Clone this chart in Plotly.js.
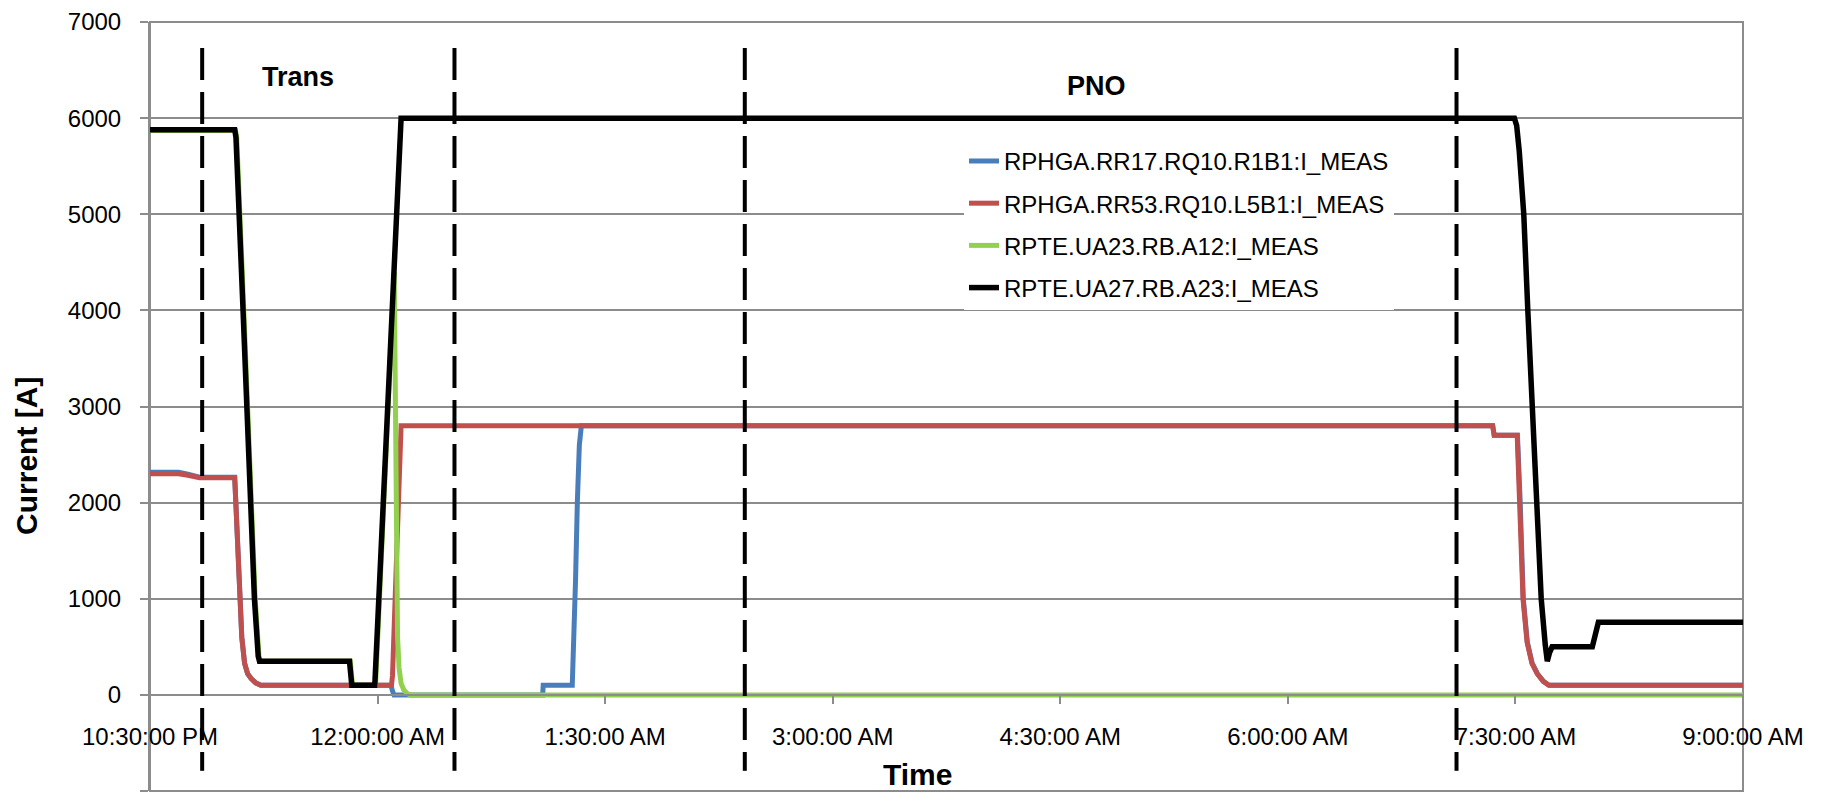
<!DOCTYPE html>
<html>
<head>
<meta charset="utf-8">
<script src="https://cdn.plot.ly/plotly-3.0.1.min.js"></script>
<style>html,body{margin:0;padding:0;background:#fff}</style>
</head>
<body>
<div id="chart" style="width:1825px;height:802px"></div>
<script>
// ---- Data (clock times, values in A) ----
const seriesNames = [
  "RPHGA.RR17.RQ10.R1B1:I_MEAS",
  "RPHGA.RR53.RQ10.L5B1:I_MEAS",
  "RPTE.UA23.RB.A12:I_MEAS",
  "RPTE.UA27.RB.A23:I_MEAS"
];
const seriesColors = ["#4a7ebb", "#c0504d", "#92d050", "#000000"];

const blueTimes = ["22:30:00","22:41:18","22:45:00","22:49:36","23:03:30","23:04:00","23:05:30","23:06:18","23:07:24","23:08:36","23:10:00","23:11:48","23:13:48","00:05:18","00:05:54","00:06:30","01:05:18","01:05:30","01:17:00","01:17:36","01:18:18","01:19:00","01:19:48","01:20:36","07:21:00","07:21:36","07:30:48","07:31:54","07:33:06","07:34:42","07:36:36","07:38:42","07:41:06","07:43:18","09:00:00"];
const blueValues = [2315,2315,2295,2265,2265,2005,1000,600,330,220,170,125,100,100,40,0,0,100,100,500,1200,2000,2600,2800,2800,2700,2700,2000,1000,550,330,220,140,100,100];

const redTimes = ["22:30:00","22:41:18","22:45:00","22:49:36","23:03:30","23:04:00","23:05:30","23:06:18","23:07:24","23:08:36","23:10:00","23:11:48","23:13:48","00:05:30","00:05:54","00:07:18","00:08:42","00:09:18","07:21:00","07:21:36","07:30:42","07:31:48","07:33:00","07:34:36","07:36:30","07:38:36","07:41:00","07:43:12","09:00:00"];
const redValues = [2300,2300,2285,2260,2260,2000,1000,600,330,220,170,125,100,100,200,1200,2500,2800,2800,2700,2700,2000,1000,550,330,220,140,100,100];

const greenTimes = ["22:30:00","23:03:48","23:04:18","23:05:42","23:07:06","23:08:36","23:10:06","23:11:36","23:13:06","23:13:36","23:49:12","23:50:06","23:59:12","00:06:36","00:06:54","00:07:12","00:07:30","00:07:54","00:08:30","00:09:18","00:10:24","00:11:48","00:13:00","09:00:00"];
const greenValues = [5870,5870,5800,5000,4000,3000,2000,1000,400,350,350,100,100,4400,3500,2200,1200,600,280,120,50,12,0,0];

const blackTimes = ["22:30:00","23:03:30","23:04:00","23:05:24","23:06:48","23:08:18","23:09:48","23:11:18","23:12:48","23:13:18","23:48:54","23:49:48","23:58:54","00:08:54","00:09:18","07:29:36","07:30:30","07:31:30","07:33:18","07:34:54","07:36:36","07:38:12","07:40:12","07:41:48","07:42:36","07:43:30","07:44:30","08:00:24","08:01:30","08:02:48","09:00:00"];
const blackValues = [5880,5880,5800,5000,4000,3000,2000,1000,400,350,350,100,100,5950,6000,6000,5920,5660,5000,4000,3000,2000,1000,520,350,440,500,500,640,755,755];

const phaseBoundaryTimes = ["22:50:38","00:30:25","02:25:14","07:06:42"];
const phaseLabels = ["Trans", "PNO"];

const xTickTimes = ["22:30:00","00:00:00","01:30:00","03:00:00","04:30:00","06:00:00","07:30:00","09:00:00"];
const xTickLabels = ["10:30:00 PM","12:00:00 AM","1:30:00 AM","3:00:00 AM","4:30:00 AM","6:00:00 AM","7:30:00 AM","9:00:00 AM"];
const yTickValues = [-1000,0,1000,2000,3000,4000,5000,6000,7000];

// ---- helpers ----
function toDate(clock) {
  const h = parseInt(clock.slice(0, 2), 10);
  return (h >= 12 ? "2000-01-01 " : "2000-01-02 ") + clock;
}

const allTimes = [blueTimes, redTimes, greenTimes, blackTimes];
const allValues = [blueValues, redValues, greenValues, blackValues];
const widths = [5, 5, 5, 5.5];

const traces = seriesNames.map((name, i) => ({
  type: "scatter",
  mode: "lines",
  name: name,
  legendgroup: "g" + i,
  x: allTimes[i].map(toDate),
  y: allValues[i],
  line: {color: seriesColors[i], width: widths[i]},
  hoverinfo: "skip"
}));

const gridGray = "#8c8c8c";
const shapes = [{
  type: "rect", xref: "paper", yref: "paper", x0: 0, x1: 1, y0: 0, y1: 1,
  line: {color: gridGray, width: 2}, layer: "between"
}];
phaseBoundaryTimes.forEach(t => {
  shapes.push({
    type: "line", xref: "x", yref: "y",
    x0: toDate(t), x1: toDate(t), y0: 6730, y1: -790,
    line: {color: "#000", width: 4, dash: "32px,12px"}, layer: "above"
  });
});

const font = "Liberation Sans, Arial, sans-serif";
const annotations = [
  {text: "<b>" + phaseLabels[0] + "</b>", xref: "paper", yref: "paper", x: 0.093, y: 0.9285,
   xanchor: "center", yanchor: "middle",
   showarrow: false, font: {size: 27, family: font, color: "#000"}},
  {text: "<b>" + phaseLabels[1] + "</b>", xref: "paper", yref: "paper", x: 0.594, y: 0.9168,
   xanchor: "center", yanchor: "middle",
   showarrow: false, font: {size: 27, family: font, color: "#000"}},
  {text: "<b>Current [A]</b>", xref: "paper", yref: "paper", x: -0.0779, y: 0.4356,
   xanchor: "center", yanchor: "middle",
   textangle: -90, showarrow: false, font: {size: 30, family: font, color: "#000"}},
  {text: "<b>Time</b>", xref: "paper", yref: "paper", x: 0.4818, y: 0.0215,
   xanchor: "center", yanchor: "middle",
   showarrow: false, font: {size: 30, family: font, color: "#000"}}
];

const layout = {
  width: 1825, height: 802,
  margin: {l: 150, r: 82, t: 22, b: 11, pad: 0},
  paper_bgcolor: "#fff", plot_bgcolor: "#fff",
  font: {family: font, size: 24, color: "#000"},
  showlegend: true,
  legend: {
    x: 0.511, y: 0.848, xanchor: "left", yanchor: "top",
    bgcolor: "#fff", borderwidth: 0, font: {size: 24, family: font, color: "#000"},
    traceorder: "grouped", tracegroupgap: 8, itemwidth: 30
  },
  xaxis: {
    type: "date",
    range: [toDate("22:30:00"), toDate("09:00:00")],
    tickmode: "array", tickvals: xTickTimes.map(toDate), ticktext: xTickLabels,
    anchor: "free", position: 0.125,
    showline: true, linecolor: gridGray, linewidth: 2,
    ticks: "outside", ticklen: 8, tickwidth: 2, tickcolor: gridGray,
    showgrid: false, zeroline: false, ticklabelstandoff: 12,
    tickfont: {size: 24, family: font, color: "#000"}
  },
  yaxis: {
    range: [-1000, 7000], tickmode: "array", tickvals: yTickValues,
    showgrid: true, gridcolor: gridGray, gridwidth: 2,
    showline: true, linecolor: gridGray, linewidth: 2,
    ticks: "outside", ticklen: 8, tickwidth: 2, tickcolor: gridGray,
    zeroline: false, ticklabelstandoff: 14,
    tickfont: {size: 24, family: font, color: "#000"}
  },
  shapes: shapes,
  annotations: annotations
};

Plotly.newPlot("chart", traces, layout, {displayModeBar: false, staticPlot: true});
</script>
</body>
</html>
